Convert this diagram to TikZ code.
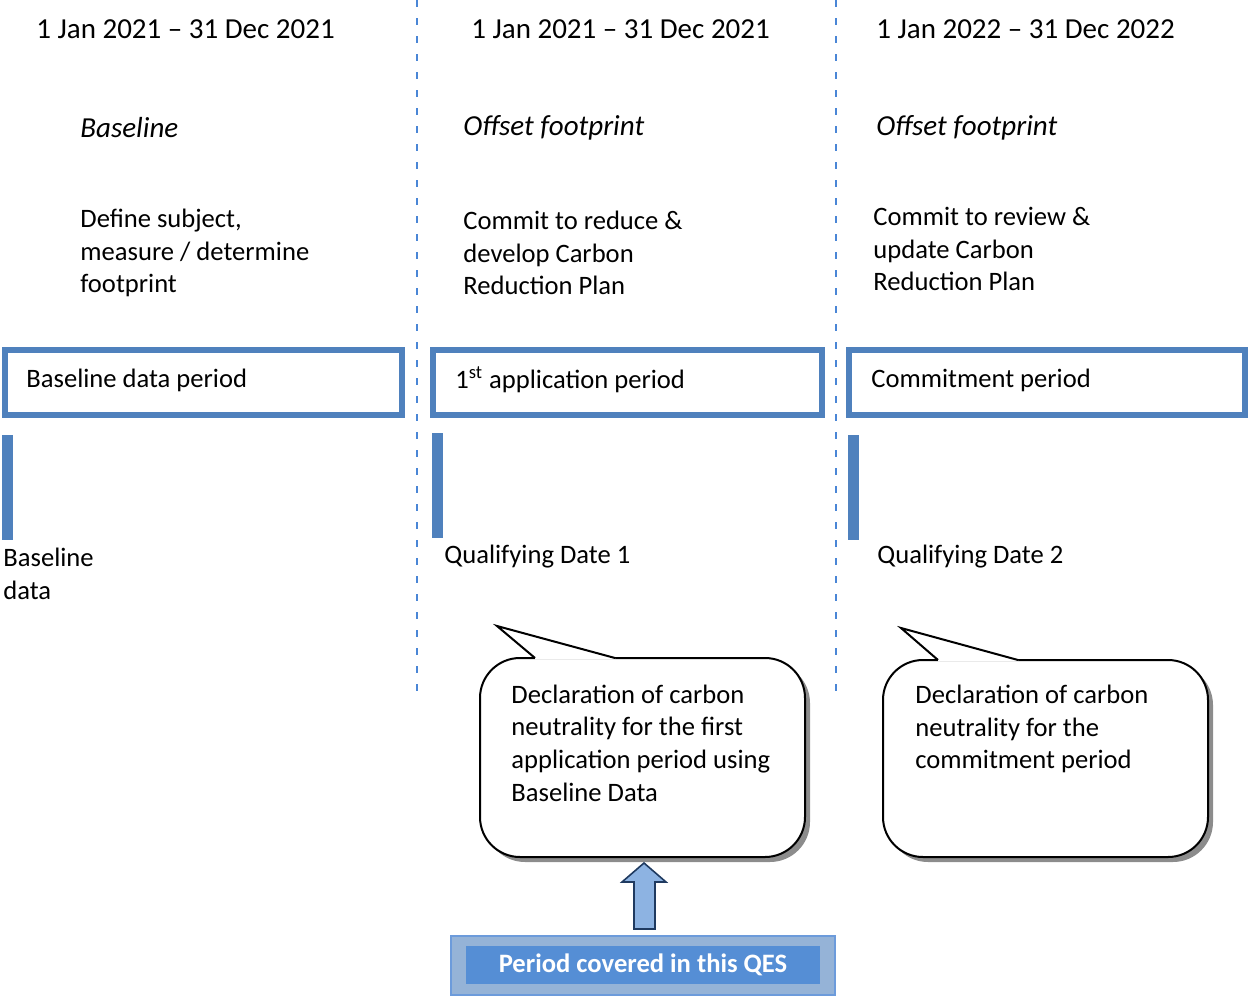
\documentclass[tikz,border=0pt]{standalone}
\usepackage{fontspec}
\setmainfont{Carlito}
\usetikzlibrary{positioning}

\definecolor{boxblue}{HTML}{4F81BD}
\definecolor{dashblue}{HTML}{4A86D6}
\definecolor{arrowfill}{HTML}{8DB3E2}
\definecolor{arrowline}{HTML}{1F3A60}
\definecolor{qesouter}{HTML}{95B3D7}
\definecolor{qesline}{HTML}{6C9BDB}
\definecolor{qesinner}{HTML}{558ED5}
\definecolor{shadowgray}{HTML}{8C8C8C}

\begin{document}
\begin{tikzpicture}[x=0.5pt,y=-0.5pt,
                every node/.style={inner sep=0pt,font=\fontsize{13.3}{16.3}\selectfont},
                plain text/.style={anchor=west,align=left},
                head text/.style={plain text,font=\fontsize{14.5}{17.5}\selectfont},
                kind text/.style={plain text,font=\fontsize{14.5}{17.5}\selectfont\itshape},
                period box/.style={draw=boxblue,line width=3pt},
                date bar/.style={fill=boxblue},
                divider/.style={dashblue,line width=1.1pt,dash pattern=on 3.5pt off 5.5pt},
                callout/.style={draw=black,line width=1pt,fill=white,rounded corners=20pt},
                callout shadow/.style={fill=shadowgray,rounded corners=20pt}]
	\useasboundingbox (0,0) rectangle (1248,996);

	% dividers between the periods
	\draw[divider] (417,0) -- (417,698);
	\draw[divider] (836,0) -- (836,698);

	% headings
	\node[head text] (date1) at (36,29) {1 Jan 2021 -- 31 Dec 2021};
	\node[head text] (date2) at (471,29) {1 Jan 2021 -- 31 Dec 2021};
	\node[head text] (date3) at (876,29) {1 Jan 2022 -- 31 Dec 2022};
	\node[kind text] (kind1) at (80,128) {Baseline};
	\node[kind text] (kind2) at (463,128) {Offset footprint};
	\node[kind text] (kind3) at (876,128) {Offset footprint};
	\node[plain text] (task1) at (80,253) {Define subject,\\measure / determine\\footprint};
	\node[plain text] (task2) at (463,253) {Commit to reduce \&\\develop Carbon\\Reduction Plan};
	\node[plain text] (task3) at (873,249) {Commit to review \&\\update Carbon\\Reduction Plan};

	% periods
	\draw[period box] (5,350) rectangle (402,415);
	\draw[period box] (433,350) rectangle (822,415);
	\draw[period box] (849,350) rectangle (1245,415);
	\node[plain text] (period1) at (26,380) {Baseline data period};
	\node[plain text] (period2) at (455,380) {1\textsuperscript{st} application period};
	\node[plain text] (period3) at (871,380) {Commitment period};

	% dates
	\fill[date bar] (2,435) rectangle (13,540);
	\fill[date bar] (432,433) rectangle (443,538);
	\fill[date bar] (848,435) rectangle (859,540);
	\node[plain text] (mark1) at (3,574) {Baseline\\data};
	\node[plain text] (mark2) at (444,557) {Qualifying Date 1};
	\node[plain text] (mark3) at (877,557) {Qualifying Date 2};

	% callouts
	\fill[callout shadow] (485,663) rectangle (810,862);
	\draw[callout] (480,658) rectangle (805,857);
	\fill[white] (535,658) -- (497,626) -- (615,658) -- (615,659.4) -- (535,659.4) -- cycle;
	\draw[line width=1pt,line join=miter] (535,658) -- (497,626) -- (615,658);
	\node[plain text] (decl1) at (511,743) {Declaration of carbon\\neutrality for the first\\application period using\\Baseline Data};

	\fill[callout shadow] (888,665) rectangle (1213,862);
	\draw[callout] (883,660) rectangle (1208,857);
	\fill[white] (938,660) -- (901,628) -- (1018,660) -- (1018,661.4) -- (938,661.4) -- cycle;
	\draw[line width=1pt,line join=miter] (938,660) -- (901,628) -- (1018,660);
	\node[plain text] (decl2) at (915,729) {Declaration of carbon\\neutrality for the\\commitment period};

	% period covered
	\draw[fill=qesouter,draw=qesline,line width=1pt] (451,936) rectangle (835,995);
	\node[fill=qesinner,text=white,minimum width=177pt,minimum height=19pt,
	      font=\fontsize{13.3}{16.3}\selectfont\bfseries] (qes) at (643,965) {Period covered in this QES};
	\draw[fill=arrowfill,draw=arrowline,line width=0.8pt,line join=miter]
		(634,929) -- (634,882) -- (622,882) -- (644,863) -- (666,882) -- (655,882) -- (655,929) -- cycle;

\end{tikzpicture}
\end{document}
